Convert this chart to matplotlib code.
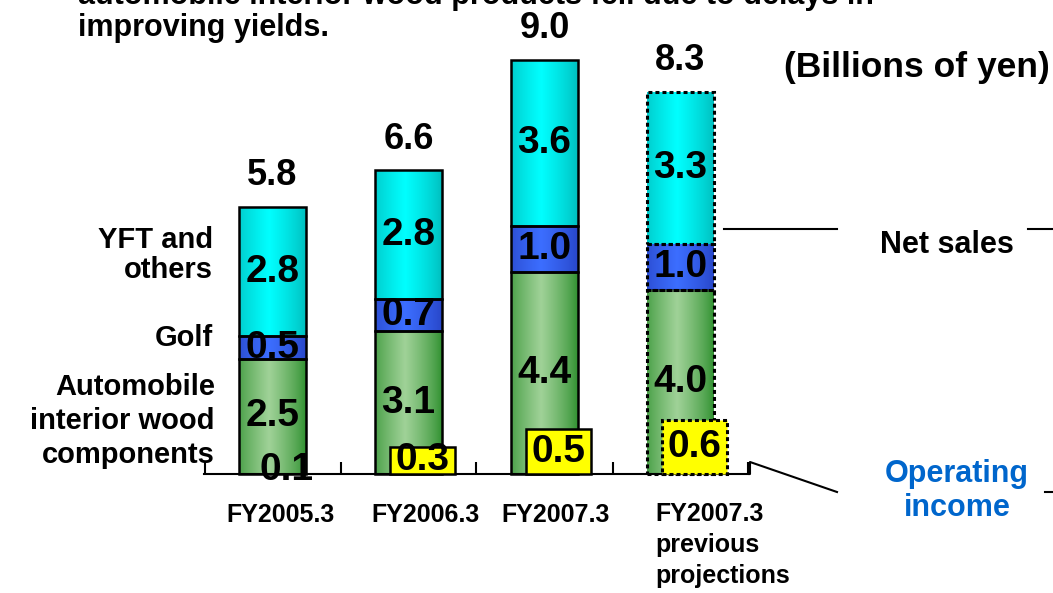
import numpy as np
import matplotlib
matplotlib.use('Agg')
import matplotlib.pyplot as plt
from matplotlib.lines import Line2D

plt.rcParams['font.family'] = ['Liberation Sans', 'DejaVu Sans']
plt.rcParams['font.weight'] = 'bold'

# data (billions of yen)
categories = ['FY2005.3', 'FY2006.3', 'FY2007.3', 'FY2007.3\nprevious\nprojections']
auto_wood = [2.5, 3.1, 4.4, 4.0]
golf = [0.5, 0.7, 1.0, 1.0]
yft_others = [2.8, 2.8, 3.6, 3.3]
net_sales = [5.8, 6.6, 9.0, 8.3]
op_income = [0.1, 0.3, 0.5, 0.6]

W, H = 1053, 593
fig = plt.figure(figsize=(W / 100, H / 100), dpi=100)
ax = fig.add_axes([0, 0, 1, 1])
x = np.arange(len(categories))


def px(xp, yp):
    # pixel position (from top-left) -> figure fraction
    return xp / W, 1 - yp / H


def gradient(axis, patch, edge, mid):
    t = np.linspace(0, 1, 80)
    w = np.clip(1 - np.abs(t - 0.45) / 0.55, 0, 1) ** 0.8
    edge, mid = np.array(edge) / 255, np.array(mid) / 255
    cols = edge + (mid - edge) * w[:, None]
    bx, by = patch.get_x(), patch.get_y()
    im = axis.imshow(cols[None, :, :], extent=[bx, bx + patch.get_width(), by, by + patch.get_height()],
                     aspect='auto', zorder=patch.get_zorder() - 0.1, interpolation='bilinear')
    im.set_clip_path(patch)


bw = 0.49
kw = dict(facecolor='none', edgecolor='black', linewidth=1.8, zorder=3)
b_auto = ax.bar(x, auto_wood, bw, **kw)
b_golf = ax.bar(x, golf, bw, bottom=auto_wood, **kw)
b_yft = ax.bar(x, yft_others, bw, bottom=np.add(auto_wood, golf), **kw)

for bars, edge, mid in [(b_auto, (48, 145, 48), (160, 210, 152)),
                        (b_golf, (40, 70, 200), (60, 110, 255)),
                        (b_yft, (0, 190, 190), (0, 255, 255))]:
    for p in bars:
        gradient(ax, p, edge, mid)
    bars[3].set_linestyle((0, (1.3, 1.0)))
    bars[3].set_linewidth(2.2)

lab = dict(label_type='center', fontsize=28, fontweight='bold', zorder=10)
ax.bar_label(b_auto, labels=[f'{v:.1f}' for v in auto_wood], **lab)
ax.bar_label(b_golf, labels=[f'{v:.1f}' for v in golf], **lab)
ax.bar_label(b_yft, labels=[f'{v:.1f}' for v in yft_others], **lab)
ax.bar_label(b_yft, labels=[f'{v:.1f}' for v in net_sales], padding=10, fontsize=26, fontweight='bold')

ax.set_xlim(-272.5 / 136, (W - 272.5) / 136)
ax.set_ylim(-119 / 46, (H - 119) / 46)

# operating income drawn on its own (larger) scale
ax2 = ax.twinx()
b_op = ax2.bar(x + 0.103, op_income, 0.485, facecolor='#ffff00', edgecolor='black', linewidth=1.8, zorder=4)
b_op[0].set_visible(False)  # too small to show as a box in the original
b_op[3].set_linestyle((0, (1.3, 1.0)))
b_op[3].set_linewidth(2.2)
ax2.bar_label(b_op, labels=[f'{v:.1f}' for v in op_income], **lab)
ax2.set_ylim(-119 / 90, (H - 119) / 90)
ax2.set_xlim(ax.get_xlim())

for a in (ax, ax2):
    for s in ['top', 'left', 'right']:
        a.spines[s].set_visible(False)
    a.set_yticks([])
ax2.spines['bottom'].set_visible(False)
ax2.set_xticks([])

ax.spines['bottom'].set_position(('data', 0))
ax.spines['bottom'].set_bounds(-0.504, 3.504)
ax.spines['bottom'].set_linewidth(1.5)
ax.spines['bottom'].set_zorder(5)
ax.set_xticks(np.arange(-0.5, 4, 1.0))
ax.tick_params(axis='x', direction='in', length=9, width=1.5, labelbottom=False)

# category labels
for i, c in enumerate(categories):
    if '\n' in c:
        fig.text(*px(655, 502), c, ha='left', va='top', fontsize=18, linespacing=1.38)
    else:
        cx = 272.5 + 136 * i + [8, 17, 11][i]
        fig.text(*px(cx, 515), c, ha='center', va='center', fontsize=18)

# side labels
fig.text(*px(213, 255), 'YFT and\nothers', ha='right', va='center', fontsize=21, linespacing=1.1)
fig.text(*px(213, 338), 'Golf', ha='right', va='center', fontsize=21)
fig.text(*px(215, 421), 'Automobile\ninterior wood\ncomponents', ha='right', va='center',
         fontsize=21, linespacing=1.28)

fig.text(*px(78, -4), 'automobile interior wood products fell due to delays in', ha='left', va='center',
         fontsize=22)
fig.text(*px(78, 28), 'improving yields.', ha='left', va='center', fontsize=22)
fig.text(*px(1050, 67), '(Billions of yen)', ha='right', va='center', fontsize=25.5)

fig.text(*px(947, 245), 'Net sales', ha='center', va='center', fontsize=22)
fig.text(*px(957, 491), 'Operating\nincome', ha='center', va='center', fontsize=22, color='#0066cc',
         linespacing=1.15)

for xs, ys in [([724, 837], [229, 229]), ([1028, 1053], [229, 229]),
               ([749, 750, 750, 837], [474, 474, 462, 492]), ([1045, 1053], [492, 492])]:
    fx = [px(a, b)[0] for a, b in zip(xs, ys)]
    fy = [px(a, b)[1] for a, b in zip(xs, ys)]
    fig.add_artist(Line2D(fx, fy, color='black', linewidth=1.5))

fig.savefig('out.png', dpi=100)
